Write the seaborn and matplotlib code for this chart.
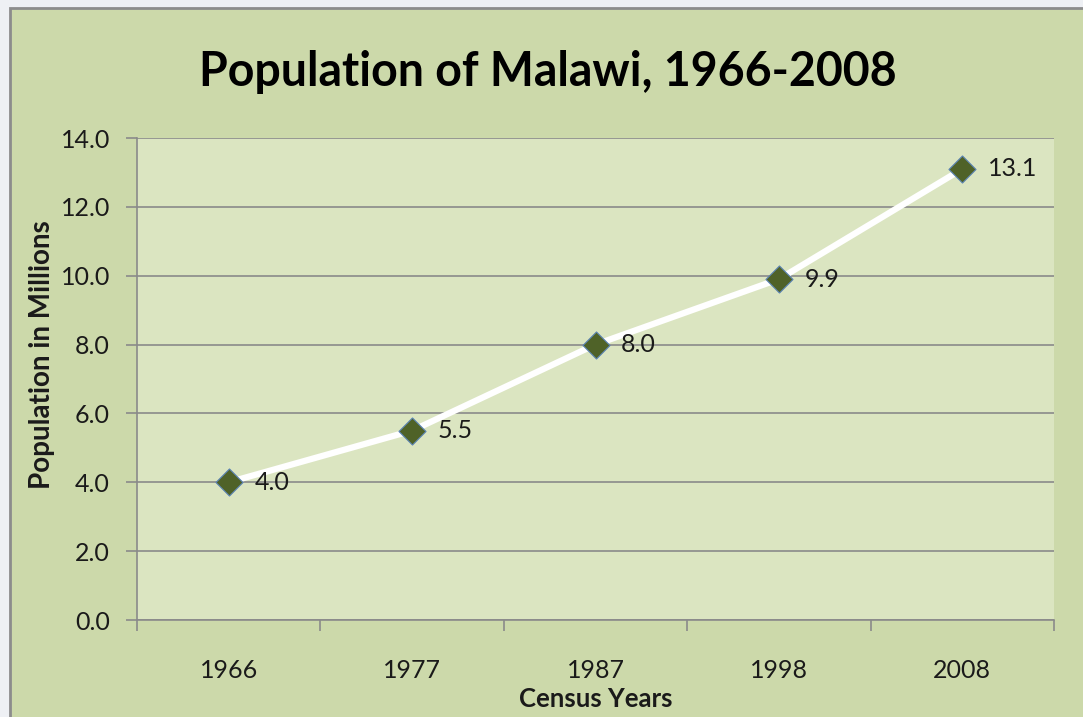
import matplotlib
matplotlib.use("Agg")
import matplotlib.pyplot as plt
import seaborn as sns
import numpy as np
import pandas as pd
from matplotlib.patches import Rectangle
from matplotlib.ticker import FixedLocator, FormatStrFormatter

years = ["1966", "1977", "1987", "1998", "2008"]
population = [4.0, 5.5, 8.0, 9.9, 13.1]
y_ticks = [0.0, 2.0, 4.0, 6.0, 8.0, 10.0, 12.0, 14.0]
title = "Population of Malawi, 1966-2008"
xlabel = "Census Years"
ylabel = "Population in Millions"

sns.set_theme(style="white")
plt.rcParams['font.family'] = ['Lato', 'DejaVu Sans']

outer_bg = "#eef0f4"
chart_bg = "#ccd9aa"
plot_bg = "#dbe5c1"
grid_c = "#8a8a8a"
txt_c = "#1a1a1a"

fig = plt.figure(figsize=(10.83, 7.17), dpi=100, facecolor=outer_bg)
W, H = 1083, 717
frame = Rectangle((10 / W, -0.01), 1.02 - 10 / W, (H - 8) / H + 0.01,
                  transform=fig.transFigure, facecolor=chart_bg,
                  edgecolor="#8c8c8c", linewidth=2, zorder=-5)
fig.patches.append(frame)

ax = fig.add_axes([137 / W, 1 - 620 / H, (1054 - 137) / W, (620 - 138) / H])
ax.set_zorder(5)
ax.set_facecolor(plot_bg)

df = pd.DataFrame({"pos": np.arange(len(years)), "pop": population})
sns.lineplot(data=df, x="pos", y="pop", ax=ax, color="white", linewidth=4.5, zorder=3)
sns.scatterplot(data=df, x="pos", y="pop", ax=ax, marker="D", s=190,
                color="#4f6228", edgecolor="#5b84b5", linewidth=0.8, zorder=4)

for i, v in enumerate(population):
    ax.annotate(f"{v:.1f}", (i, v), xytext=(18.5, 0), textcoords="offset points",
                ha="left", va="center", fontsize=18, color=txt_c, zorder=5)

ax.set_xlim(-0.5, len(years) - 0.5)
ax.set_ylim(0, 14)
ax.set_yticks(y_ticks)
ax.yaxis.set_major_formatter(FormatStrFormatter("%.1f"))
ax.set_xticks(np.arange(len(years)))
ax.set_xticklabels(years)
ax.xaxis.set_minor_locator(FixedLocator(np.arange(len(years) + 1) - 0.5))
ax.tick_params(axis="x", which="major", length=0, pad=28, labelsize=18, labelcolor=txt_c)
ax.tick_params(axis="x", which="minor", length=8, width=1.2, color=grid_c, direction="out", bottom=True)
ax.tick_params(axis="y", which="major", length=8, width=1.2, color=grid_c, direction="out",
               left=True, pad=11.5, labelsize=18, labelcolor=txt_c)

ax.grid(axis="y", color=grid_c, linewidth=1.2)
ax.set_axisbelow(True)
for s in ["top", "right"]:
    ax.spines[s].set_visible(False)
for s in ["left", "bottom"]:
    ax.spines[s].set_color(grid_c)
    ax.spines[s].set_linewidth(1.2)

ax.set_xlabel(xlabel, fontsize=18.5, fontweight="bold", color=txt_c)
ax.xaxis.set_label_coords(0.5, -0.139)
ax.set_ylabel(ylabel, fontsize=20, fontweight="bold", color=txt_c)
ax.yaxis.set_label_coords(-0.089, 0.55)
fig.text(548 / W, 1 - 72 / H, title, ha="center", va="center", fontsize=33.5,
         fontweight="bold", color="black")

fig.savefig("out.png", dpi=100, facecolor=fig.get_facecolor())
